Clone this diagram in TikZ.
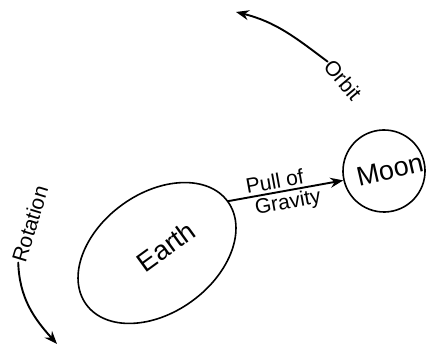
\documentclass[tikz,border=0pt]{standalone}
\usepackage{fontspec}
\setmainfont{Liberation Sans}
\usetikzlibrary{shapes.geometric,arrows.meta}
\tikzset{
  body/.style={draw,line width=1.6pt,inner sep=0pt},
  bigtext/.style={font=\fontsize{27}{32}\selectfont},
  smalltext/.style={font=\fontsize{21}{24}\selectfont},
  motion/.style={line width=1.9pt,-{Stealth[length=13pt,width=10pt]}}
}
\begin{document}
\begin{tikzpicture}[x=1pt,y=1pt,line cap=round,line join=round]
        \useasboundingbox (0,0) rectangle (427,347);
        % bodies
        \node[body,bigtext,ellipse,minimum width=175,minimum height=119,rotate=36] (earth) at (157,94) {\makebox[0pt]{\hspace*{22pt}Earth}};
        \node[body,bigtext,circle,minimum size=82,rotate=13] (moon) at (384,176) {\makebox[0pt]{\hspace*{12pt}Moon}};
        
        % labels for the turning arrows
        \node[smalltext,inner sep=1pt,rotate=-50] (orbit) at (343,267) {Orbit};
        \node[smalltext,inner sep=1pt,rotate=73] (rotation) at (30,123) {Rotation};
        \coordinate (orbittip) at (236,335);
        \coordinate (rotationtip) at (57,3);
        
        \draw[motion] (earth.east) -- (moon.west)
            node[smalltext,pos=0.42,above,sloped,inner sep=2.5pt] {Pull of}
            node[smalltext,pos=0.5,below,sloped,inner sep=2pt] {Gravity};
        \draw[motion] (orbit.west) to[out=143,in=-14] (orbittip);
        \draw[motion] (rotation.west) to[out=-88,in=132] (rotationtip);
    \end{tikzpicture}
\end{document}
